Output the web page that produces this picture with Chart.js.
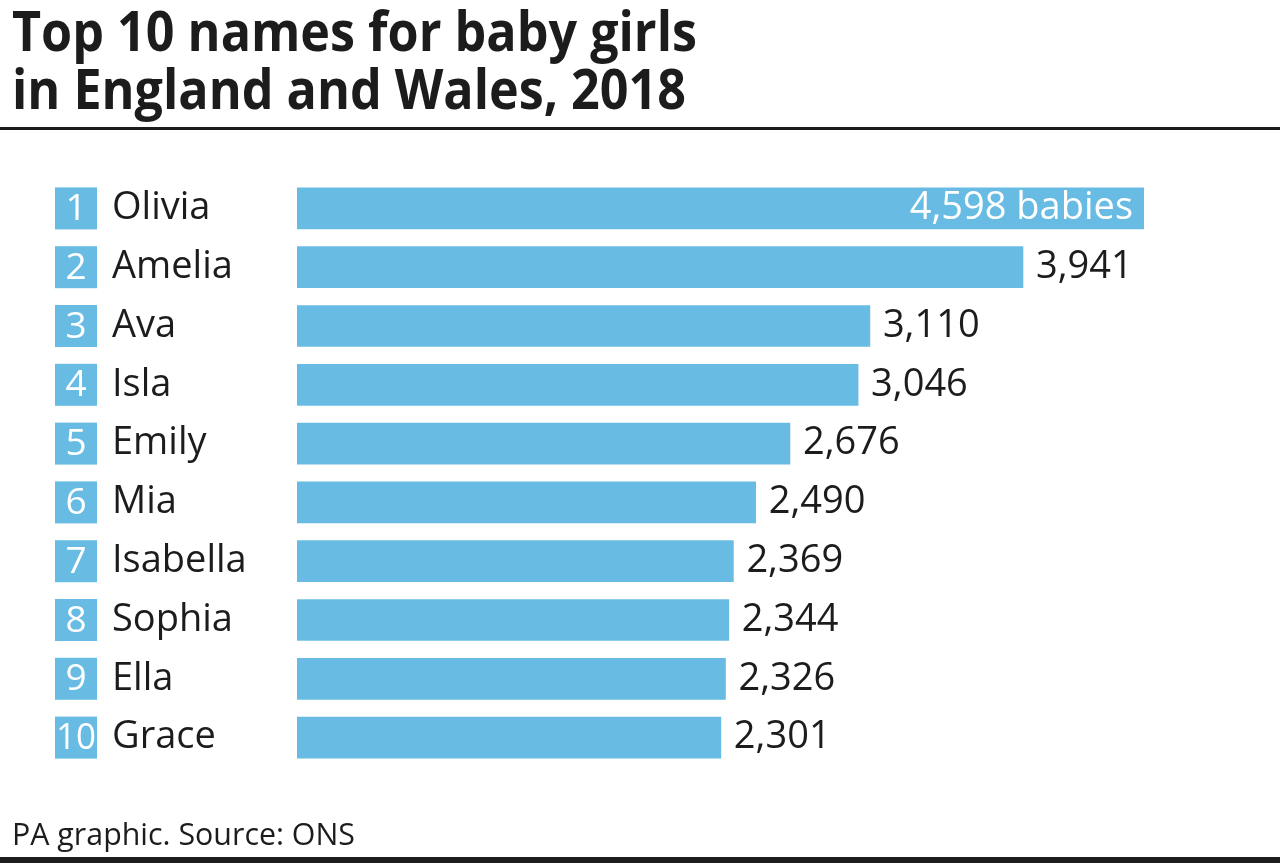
<!DOCTYPE html>
<html>
<head>
<meta charset="utf-8">
<title>Top 10 names for baby girls</title>
<script src="https://cdn.jsdelivr.net/npm/chart.js@4"></script>
<style>
    body { margin: 0; background: #fff; }
    canvas { display: block; }
</style>
</head>
<body>
<canvas id="namesChart" width="1280" height="863"></canvas>
<script>
const ranks = ["1", "2", "3", "4", "5", "6", "7", "8", "9", "10"];
const names = ["Olivia", "Amelia", "Ava", "Isla", "Emily", "Mia", "Isabella", "Sophia", "Ella", "Grace"];
const babies = [4598, 3941, 3110, 3046, 2676, 2490, 2369, 2344, 2326, 2301];

const titleLines = ["Top 10 names for baby girls", "in England and Wales, 2018"];
const footerText = "PA graphic. Source: ONS";

const barBlue = "#68bce4";
const ink = "#1c1c1c";

// draws text squeezed horizontally to fit a given width (the original font is a condensed one)
function fitText(ctx, text, x, y, width) {
    const natural = ctx.measureText(text).width;
    const sx = Math.min(1, width / natural);
    ctx.save();
    ctx.translate(x, y);
    ctx.scale(sx, 1);
    ctx.fillText(text, 0, 0);
    ctx.restore();
}

const decorations = {
    id: "decorations",
    afterDraw(chart) {
        const ctx = chart.ctx;
        const yScale = chart.scales.y;
        const meta = chart.getDatasetMeta(0);

        ctx.save();
        ctx.textBaseline = "alphabetic";
        ctx.textAlign = "left";

        // Title
        ctx.fillStyle = ink;
        ctx.font = "bold 55px 'Open Sans', sans-serif";
        fitText(ctx, titleLines[0], 12, 51, 685);
        fitText(ctx, titleLines[1], 12, 109, 674);

        // rules
        ctx.fillRect(0, 127, 1280, 3);
        ctx.fillRect(0, 857, 1280, 6);

        // footer
        ctx.font = "31px 'Open Sans', sans-serif";
        fitText(ctx, footerText, 12, 845, 343);

        // rank boxes and names
        names.forEach((name, i) => {
            const cy = yScale.getPixelForValue(i);
            ctx.fillStyle = barBlue;
            ctx.fillRect(55, cy - 21, 42, 42);

            ctx.fillStyle = "#ffffff";
            ctx.font = "37px 'Open Sans', sans-serif";
            ctx.textAlign = "center";
            ctx.textBaseline = "middle";
            const w = ctx.measureText(ranks[i]).width;
            ctx.save();
            ctx.translate(76, cy + 1);
            ctx.scale(Math.min(1, 40 / w), 1);
            ctx.fillText(ranks[i], 0, 0);
            ctx.restore();

            ctx.fillStyle = ink;
            ctx.textAlign = "left";
            ctx.font = "38px 'Open Sans', sans-serif";
            ctx.fillText(name, 112, cy);
        });

        // value labels
        ctx.font = "38px 'Open Sans', sans-serif";
        ctx.textBaseline = "middle";
        meta.data.forEach((bar, i) => {
            const label = babies[i].toLocaleString("en-GB");
            if (i === 0) {
                ctx.fillStyle = "#ffffff";
                ctx.textAlign = "right";
                ctx.fillText(label + " babies", bar.x - 11, bar.y);
            } else {
                ctx.fillStyle = ink;
                ctx.textAlign = "left";
                ctx.fillText(label, bar.x + 13, bar.y);
            }
        });
        ctx.restore();
    }
};

document.addEventListener("DOMContentLoaded", function () {
    const ctx = document.getElementById("namesChart").getContext("2d");

    new Chart(ctx, {
        type: "bar",
        data: {
            labels: names,
            datasets: [{
                data: babies,
                backgroundColor: barBlue,
                borderWidth: 0,
                barThickness: 41,
            }]
        },
        options: {
            indexAxis: "y",
            responsive: false,
            animation: false,
            layout: {
                padding: { left: 297, right: 136, top: 179, bottom: 96 }
            },
            scales: {
                x: {
                    display: false,
                    min: 0,
                    max: Math.max(...babies),
                },
                y: {
                    display: false,
                }
            },
            plugins: {
                legend: { display: false },
                tooltip: { enabled: false },
                title: { display: false },
            }
        },
        plugins: [decorations]
    });
});
</script>
</body>
</html>
